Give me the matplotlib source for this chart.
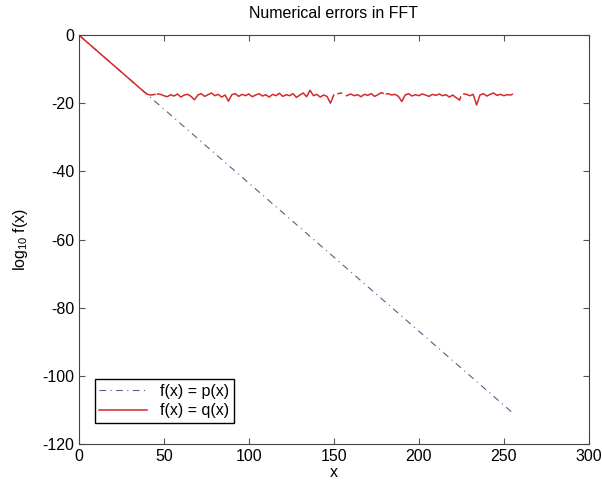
import numpy as np
import matplotlib.pyplot as plt

plt.rcParams['font.family'] = ['Liberation Sans', 'DejaVu Sans']
plt.rcParams['axes.unicode_minus'] = False
plt.rcParams['mathtext.fontset'] = 'custom'
plt.rcParams['mathtext.rm'] = 'Liberation Sans'

# f(x) = p(x): straight decay in log10 scale
p_x = [0, 64, 128, 192, 256]
p_y = [0, -27.8, -55.6, -83.4, -111.2]

# f(x) = q(x): follows p until round-off floor, then noise (nan = gaps)
nan = np.nan
q_x = [0, 38, 40, 42, 44, 44.8, 45.5, 46.3, 48, 50, 52, 54, 56, 58, 60, 62, 64, 66, 68, 70,
       72, 74, 76, 78, 80, 82, 84, 86, 88, 90, 92, 94, 96, 98, 100, 102, 104, 106,
       108, 110, 112, 114, 116, 118, 120, 122, 124, 126, 128, 130, 132, 134, 136,
       138, 140, 142, 144, 146, 148, 150, 151, 152.5, 154.5, 156, 157.5, 160, 162,
       164, 166, 168, 170, 172, 174, 176, 178, 179, 180, 181, 182, 184, 186, 188, 190,
       192, 194, 196, 198, 200, 202, 204, 206, 208, 210, 212, 214, 216, 218, 220,
       222, 224, 224.6, 225.5, 226.5, 228, 230, 232, 234, 236, 238, 240, 242, 244, 246,
       248, 250, 252, 254, 255]
q_y = [0, -16.5, -17.3, -17.6, -17.5, -17.4, nan, -17.3, -17.4, -17.8, -18.1, -17.5,
       -17.9, -17.3, -18.2, -17.6, -17.4, -18.0, -19.0, -17.6, -17.2, -18.0, -17.5,
       -17.0, -17.8, -17.4, -18.2, -17.6, -19.4, -17.5, -17.2, -18.0, -17.4, -17.8,
       -17.3, -18.1, -17.6, -17.2, -17.9, -17.5, -18.2, -17.4, -17.8, -17.1, -18.0,
       -17.5, -17.8, -17.2, -18.3, -17.6, -17.0, -18.1, -16.2, -17.8, -17.4, -18.2,
       -17.6, -18.0, -20.0, -17.6, nan, -17.2, -17.0, nan, -17.8, -17.3, -17.8,
       -17.5, -18.1, -17.4, -17.7, -17.2, -18.0, -17.5, -16.9, -17.1, nan, -17.3, -17.2,
       -17.6, -17.4, -18.0, -19.5, -17.6, -17.2, -17.9, -17.5, -17.8, -17.3, -17.6,
       -18.0, -17.4, -17.7, -17.3, -17.8, -17.5, -18.2, -17.6, -18.4, -19.1, -18.2, nan,
       -17.3, -17.4, -17.8, -17.4, -20.5, -17.6, -17.2, -17.9, -17.4, -17.0, -17.7,
       -17.4, -17.8, -17.5, -17.6, -17.4]

fig = plt.figure(figsize=(6.02, 4.8), dpi=100)
ax = fig.add_axes([0.131, 0.075, 0.847, 0.852])

ax.plot(p_x, p_y, color='#5c5c88', linestyle=(0, (6, 4, 1, 4)), linewidth=0.8,
        label='f(x) = p(x)')
ax.plot(q_x, q_y, color='#d42a2a', linewidth=1.1, label='f(x) = q(x)')

ax.set_xlim(0, 300)
ax.set_ylim(-120, 0)
ax.set_xticks(range(0, 301, 50))
ax.set_yticks(range(-120, 1, 20))
ax.tick_params(direction='in', top=True, right=True, labelsize=11.5,
               color='#555555', length=4)
for s in ax.spines.values():
    s.set_color('#444444')
    s.set_linewidth(0.8)

ax.set_title('Numerical errors in FFT', fontsize=11.5, pad=12)
ax.set_xlabel('x', fontsize=11.5, labelpad=1)
ax.set_ylabel('log$_{10}$ f(x)', fontsize=11.5, labelpad=9)

leg = ax.legend(loc='lower left', bbox_to_anchor=(0.031, 0.051), borderaxespad=0,
                fontsize=11.5, fancybox=False, edgecolor='black', framealpha=1,
                handlelength=3, borderpad=0.3, labelspacing=0.3)
leg.get_frame().set_linewidth(1.0)

fig.savefig('out.png', dpi=100)
